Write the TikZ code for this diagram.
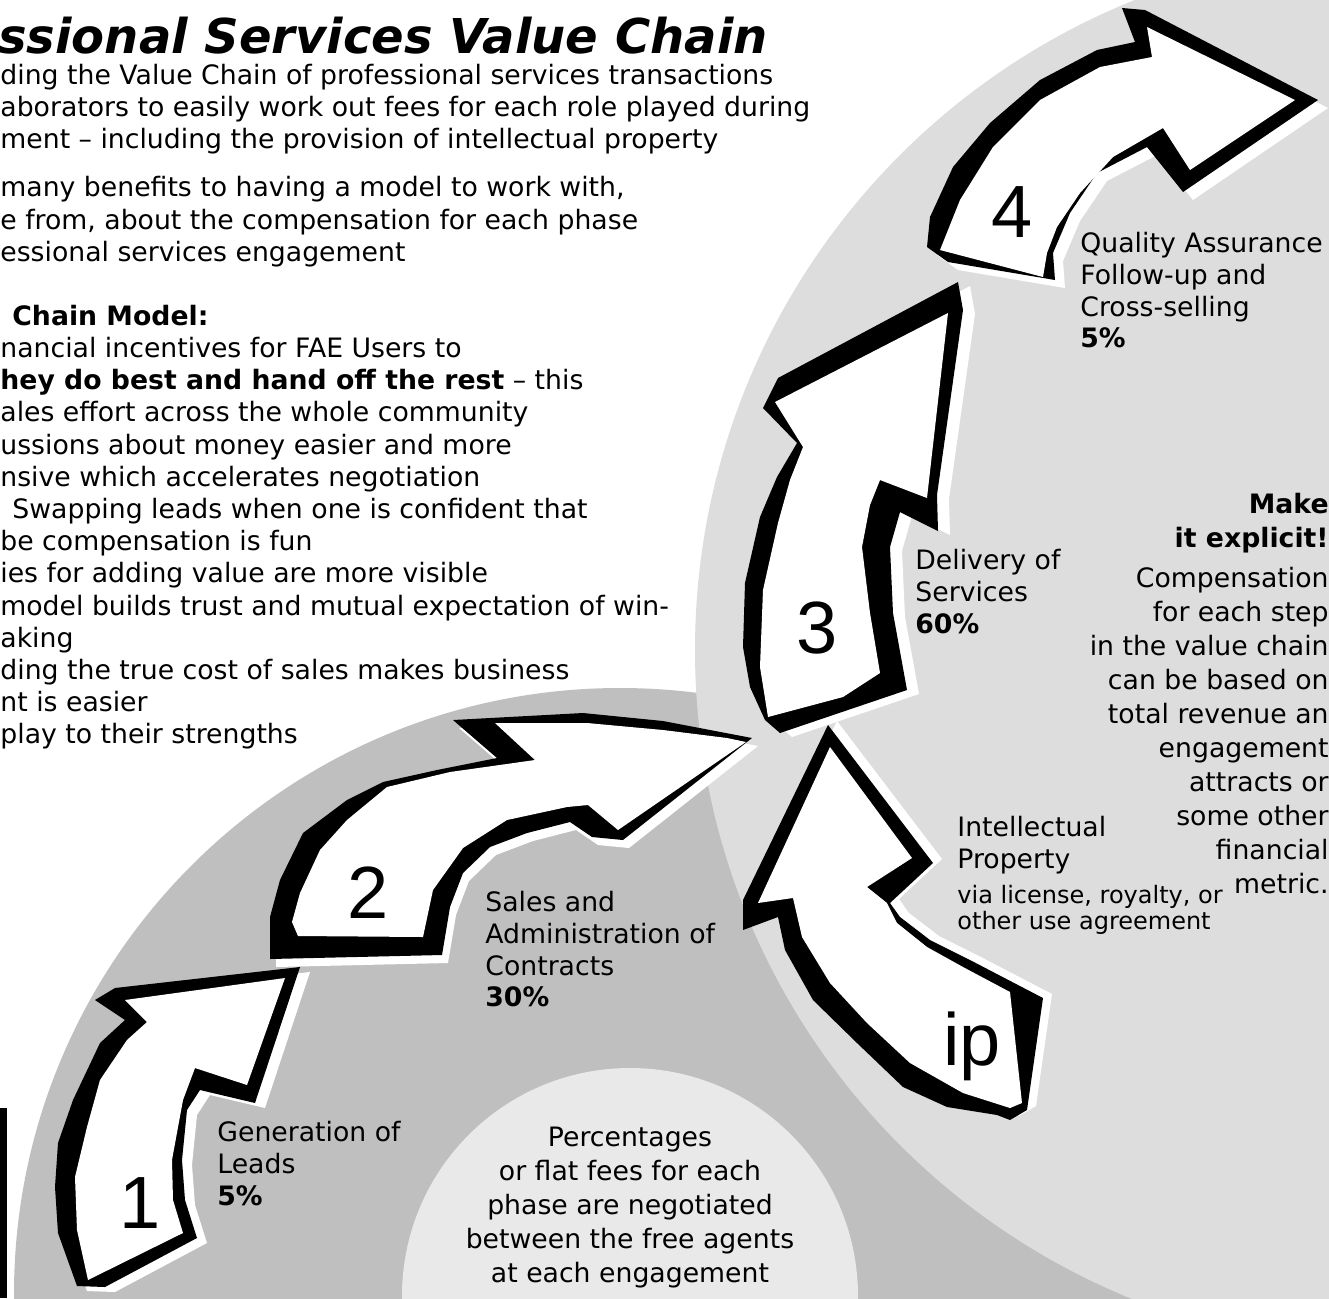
\documentclass[tikz,border=0pt]{standalone}
\usepackage{fontspec}
\setmainfont{DejaVu Sans}
\newfontfamily\digitfont{Liberation Sans}
\definecolor{bgmid}{RGB}{191,191,191}
\definecolor{bglight}{RGB}{221,221,221}
\definecolor{bginner}{RGB}{233,233,233}
% one block arrow: white drop edge, black extrusion, white face
\newcommand\chainarrow[3]{%
  \fill[white,shift={#3}] #1 -- cycle;
  \fill[black] #1 -- cycle;
  \fill[white] #2 -- cycle;}
\begin{document}
\begin{tikzpicture}[x=0.5pt,y=-0.5pt,
  body/.style={inner sep=0pt,font=\fontsize{13.35}{16.1}\selectfont,align=left,anchor=north west},
  lbl/.style={inner sep=0pt,font=\fontsize{13.35}{15.9}\selectfont,align=left,anchor=north west},
  smalllbl/.style={inner sep=0pt,font=\fontsize{12}{13}\selectfont,align=left,anchor=north west},
  digit/.style={inner sep=0pt,font=\digitfont\fontsize{37}{40}\selectfont},
  titletext/.style={inner sep=0pt,font=\fontsize{24}{28}\selectfont\bfseries\itshape,anchor=base west}]

\useasboundingbox (0,0) rectangle (1329,1298);
\clip (0,0) rectangle (1329,1298);

% backdrop discs
\fill[white] (0,0) rectangle (1329,1298);
\fill[bgmid] (620,1294) circle[radius=303pt];
\fill[bglight] (1395,650) circle[radius=350pt];
\fill[bginner] (630,1296) circle[radius=114pt];
\fill[black] (0,1108) rectangle (7,1298);

% arrow 1
\chainarrow{(95,1000) -- (115,988) -- (300,967) -- (255,1103) -- (200,1090) -- (187,1110) -- (182,1160) -- (185,1200) -- (197,1238) -- (105,1287) -- (77,1286) -- (58,1233) -- (55,1187) -- (58,1143) -- (73,1100) -- (100,1043) -- (125,1020)}
{(125,1000) -- (285,978) -- (247,1085) -- (195,1068) -- (183,1100) -- (172,1160) -- (173,1200) -- (183,1233) -- (88,1280) -- (77,1230) -- (75,1177) -- (87,1127) -- (100,1080) -- (127,1040) -- (147,1022)}
{(10,5)}

% arrow 2
\chainarrow{(453,720) -- (583,713) -- (663,721) -- (752,738) -- (623,840) -- (592,837) -- (570,822) -- (527,833) -- (490,847) -- (463,873) -- (450,907) -- (442,955) -- (270,959) -- (270,917) -- (280,880) -- (303,833) -- (347,800) -- (383,782) -- (437,770) -- (497,758)}
{(495,723) -- (587,723) -- (663,730) -- (727,738) -- (746,742) -- (618,830) -- (588,805) -- (567,807) -- (507,820) -- (463,848) -- (433,890) -- (423,937) -- (298,936) -- (292,922) -- (300,893) -- (320,850) -- (347,820) -- (387,787) -- (450,772) -- (535,760)}
{(6,8)}

% arrow ip
\chainarrow{(828,725) -- (933,863) -- (890,903) -- (900,917) -- (930,940) -- (970,960) -- (1043,998) -- (1027,1110) -- (1010,1120) -- (997,1115) -- (947,1107) -- (903,1087) -- (857,1043) -- (813,1000) -- (785,950) -- (778,917) -- (743,930) -- (743,900)}
{(830,747) -- (912,858) -- (867,887) -- (887,903) -- (897,923) -- (927,947) -- (963,967) -- (1010,992) -- (1022,1103) -- (1010,1108) -- (963,1093) -- (910,1063) -- (867,1023) -- (830,983) -- (802,937) -- (793,898) -- (758,903)}
{(9,-4)}

% arrow 3
\chainarrow{(958,282) -- (963,310) -- (937,495) -- (938,531) -- (900,512) -- (890,547) -- (893,613) -- (907,690) -- (780,733) -- (765,720) -- (750,687) -- (743,647) -- (745,583) -- (760,517) -- (777,477) -- (797,443) -- (763,408) -- (778,378)}
{(948,313) -- (927,498) -- (880,480) -- (870,505) -- (862,547) -- (870,613) -- (880,673) -- (843,697) -- (768,717) -- (760,667) -- (763,590) -- (778,523) -- (790,480) -- (803,447) -- (775,402)}
{(12,4)}

% arrow 4
\chainarrow{(1122,8) -- (1145,10) -- (1318,100) -- (1183,192) -- (1147,147) -- (1097,173) -- (1070,213) -- (1053,253) -- (1055,280) -- (948,262) -- (927,247) -- (930,217) -- (953,167) -- (990,123) -- (1040,80) -- (1097,50) -- (1135,42)}
{(1147,27) -- (1295,100) -- (1190,170) -- (1163,128) -- (1113,157) -- (1080,193) -- (1057,227) -- (1047,253) -- (1043,277) -- (940,250) -- (960,200) -- (993,147) -- (1040,100) -- (1100,67) -- (1152,57)}
{(10,8)}

% step numbers
\node[digit] (d1) at (140,1203) {1};
\node[digit] (d2) at (368,893) {2};
\node[digit] (d3) at (817,628) {3};
\node[digit] (d4) at (1012,212) {4};
\node[digit] (dip) at (972,1046) {ip};

% heading and notes
\node[titletext] (title) at (-2,53) {ssional Services Value Chain};
\node[body] (notes) at (0,63) {\rule{0pt}{10.5pt}ding the Value Chain of professional services transactions\\
aborators to easily work out fees for each role played during\\
ment – including the provision of intellectual property\\[7.9pt]
many benefits to having a model to work with,\\
e from, about the compensation for each phase\\
essional services engagement\\[15.9pt]
\hspace*{6pt}\textbf{Chain Model:}\\
nancial incentives for FAE Users to\\
\textbf{hey do best and hand off the rest} – this\\
ales effort across the whole community\\
ussions about money easier and more\\
nsive which accelerates negotiation\\
\hspace*{6pt}Swapping leads when one is confident that\\
be compensation is fun\\
ies for adding value are more visible\\
model builds trust and mutual expectation of win-\\
aking\\
ding the true cost of sales makes business\\
nt is easier\\
play to their strengths};

% step labels
\node[lbl] (lgen) at (217,1119) {\rule{0pt}{11pt}Generation of\\Leads\\\textbf{5\%}};
\node[lbl] (lsales) at (485,889) {\rule{0pt}{11pt}Sales and\\Administration of\\Contracts\\\textbf{30\%}};
\node[lbl] (ldeliv) at (915,547) {\rule{0pt}{11pt}Delivery of\\Services\\\textbf{60\%}};
\node[lbl] (lqa) at (1080,230) {\rule{0pt}{11pt}Quality Assurance\\Follow-up and\\Cross-selling\\\textbf{5\%}};
\node[lbl] (lip) at (957,814) {\rule{0pt}{11pt}Intellectual\\Property};
\node[smalllbl] (lipnote) at (957,883) {\rule{0pt}{10pt}via license, royalty, or\\other use agreement};

\node[inner sep=0pt,font=\fontsize{13.35}{17}\selectfont,align=center,anchor=north] (fees) at (630,1124)
  {\rule{0pt}{11pt}Percentages\\or flat fees for each\\phase are negotiated\\between the free agents\\at each engagement};

\node[inner sep=0pt,font=\fontsize{13.35}{17}\selectfont,align=right,anchor=north east] (explicit) at (1329,491)
  {\rule{0pt}{11pt}\textbf{Make}\\\textbf{it explicit!}\\[3pt]Compensation\\for each step\\in the value chain\\can be based on\\total revenue an\\engagement\\attracts or\\some other\\financial\\metric.};
\end{tikzpicture}
\end{document}
